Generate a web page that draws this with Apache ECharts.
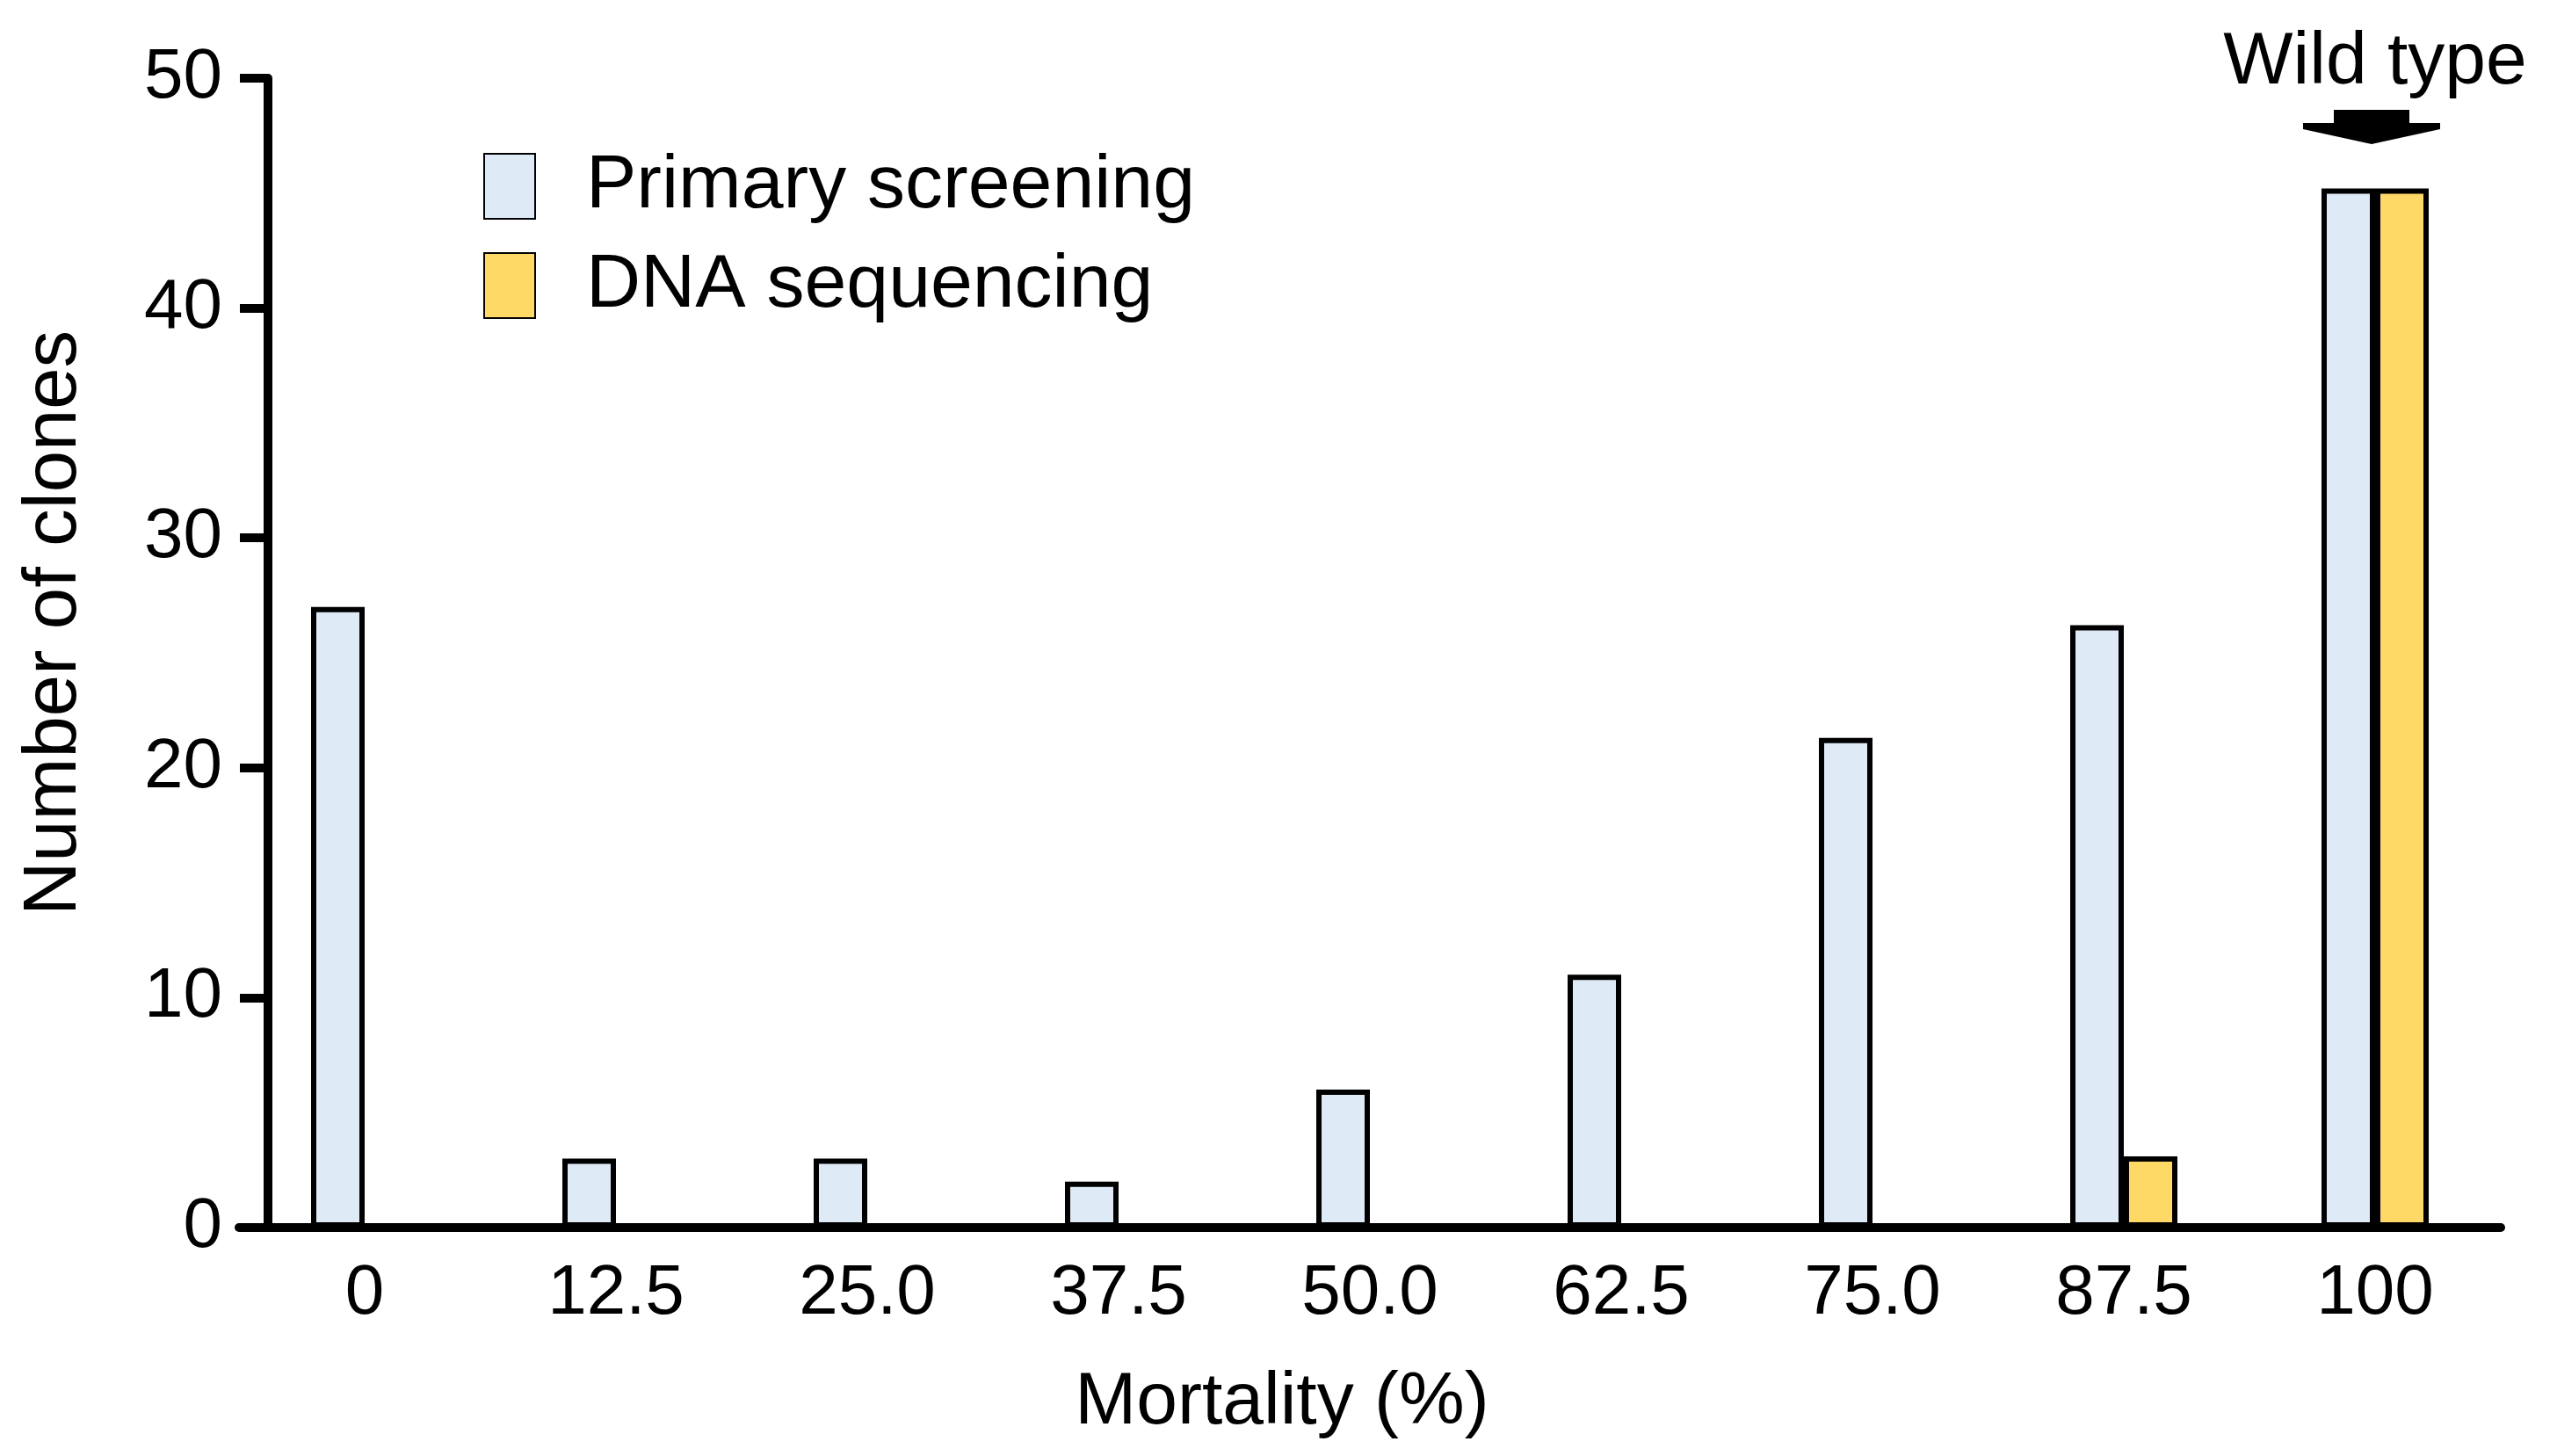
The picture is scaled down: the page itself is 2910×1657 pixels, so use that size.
<!DOCTYPE html>
<html>
<head>
<meta charset="utf-8">
<script src="https://cdn.jsdelivr.net/npm/echarts@6/dist/echarts.min.js"></script>
<style>
html,body{margin:0;padding:0;background:#fff}
#chart{width:2910px;height:1657px}
</style>
</head>
<body>
<div id="chart"></div>
<script>
// mortality classes (%) on the x axis
var mortality = ['0', '12.5', '25.0', '37.5', '50.0', '62.5', '75.0', '87.5', '100'];
// number of clones
var primaryScreening = [27, 3, 3, 2, 6, 11, 21.3, 26.2, 45.2];
var dnaSequencing = [0, 0, 0, 0, 0, 0, 0, 3.1, 45.2];
var yTicks = [0, 10, 20, 30, 40, 50];
var wildTypeClass = '100';

var font = 'Liberation Sans, Arial, sans-serif';
var myChart = echarts.init(document.getElementById('chart'));

var option = {
    backgroundColor: '#fff',
    animation: false,
    textStyle: { fontFamily: font, color: '#000' },
    grid: { left: 272, right: 64, top: 89, bottom: 260, containLabel: false },
    legend: {
        left: 550,
        top: 169,
        padding: 0,
        orient: 'vertical',
        itemWidth: 58,
        itemHeight: 74,
        itemGap: 27,
        icon: 'rect',
        data: ['Primary screening', 'DNA sequencing'],
        textStyle: { fontSize: 86, fontFamily: font, color: '#000', lineHeight: 74, padding: [0, 0, 0, 53] }
    },
    xAxis: {
        type: 'category',
        data: mortality,
        name: 'Mortality (%)',
        nameLocation: 'middle',
        nameGap: 158,
        nameTextStyle: { fontSize: 84, fontFamily: font, color: '#000', padding: [0, 200, 0, 0] },
        axisLine: { lineStyle: { color: '#000', width: 10 } },
        axisTick: { show: false },
        axisLabel: { fontSize: 80, fontFamily: font, color: '#000', margin: 36 },
        splitLine: { show: false }
    },
    yAxis: {
        type: 'value',
        min: yTicks[0],
        max: yTicks[yTicks.length - 1],
        interval: 10,
        offset: -33,
        name: 'Number of clones',
        nameLocation: 'middle',
        nameGap: 200,
        nameTextStyle: { fontSize: 85, fontFamily: font, color: '#000', padding: [0, 0, 0, 68] },
        axisLine: { show: true, lineStyle: { color: '#000', width: 10 } },
        axisTick: { show: true, length: 32, lineStyle: { color: '#000', width: 10 } },
        axisLabel: { fontSize: 80, fontFamily: font, color: '#000', margin: 52 },
        splitLine: { show: false }
    },
    series: [
        {
            name: 'Primary screening',
            type: 'bar',
            data: primaryScreening,
            barWidth: 61,
            barGap: '0%',
            itemStyle: { color: '#DEEBF7', borderColor: '#000', borderWidth: 6 }
        },
        {
            name: 'DNA sequencing',
            type: 'bar',
            data: dnaSequencing,
            barWidth: 61,
            barGap: '0%',
            itemStyle: { color: '#FFD966', borderColor: '#000', borderWidth: 6 }
        }
    ]
};
myChart.setOption(option);

// "Wild type" label and block arrow above the 100 % group
var top50 = myChart.convertToPixel({ xAxisIndex: 0, yAxisIndex: 0 }, [wildTypeClass, 50]);
var cx = top50[0] - 4, cy = top50[1];
myChart.setOption({
    graphic: [
        {
            type: 'text',
            x: cx + 4,
            y: cy - 17,
            style: {
                text: 'Wild type',
                font: '84px ' + font,
                fill: '#000',
                align: 'center',
                verticalAlign: 'middle'
            }
        },
        {
            type: 'polygon',
            shape: {
                points: [
                    [cx - 43, cy + 36], [cx + 43, cy + 36], [cx + 43, cy + 51],
                    [cx + 78, cy + 51], [cx + 78, cy + 58], [cx, cy + 75],
                    [cx - 78, cy + 58], [cx - 78, cy + 51], [cx - 43, cy + 51]
                ]
            },
            style: { fill: '#000' }
        }
    ]
});
</script>
</body>
</html>
